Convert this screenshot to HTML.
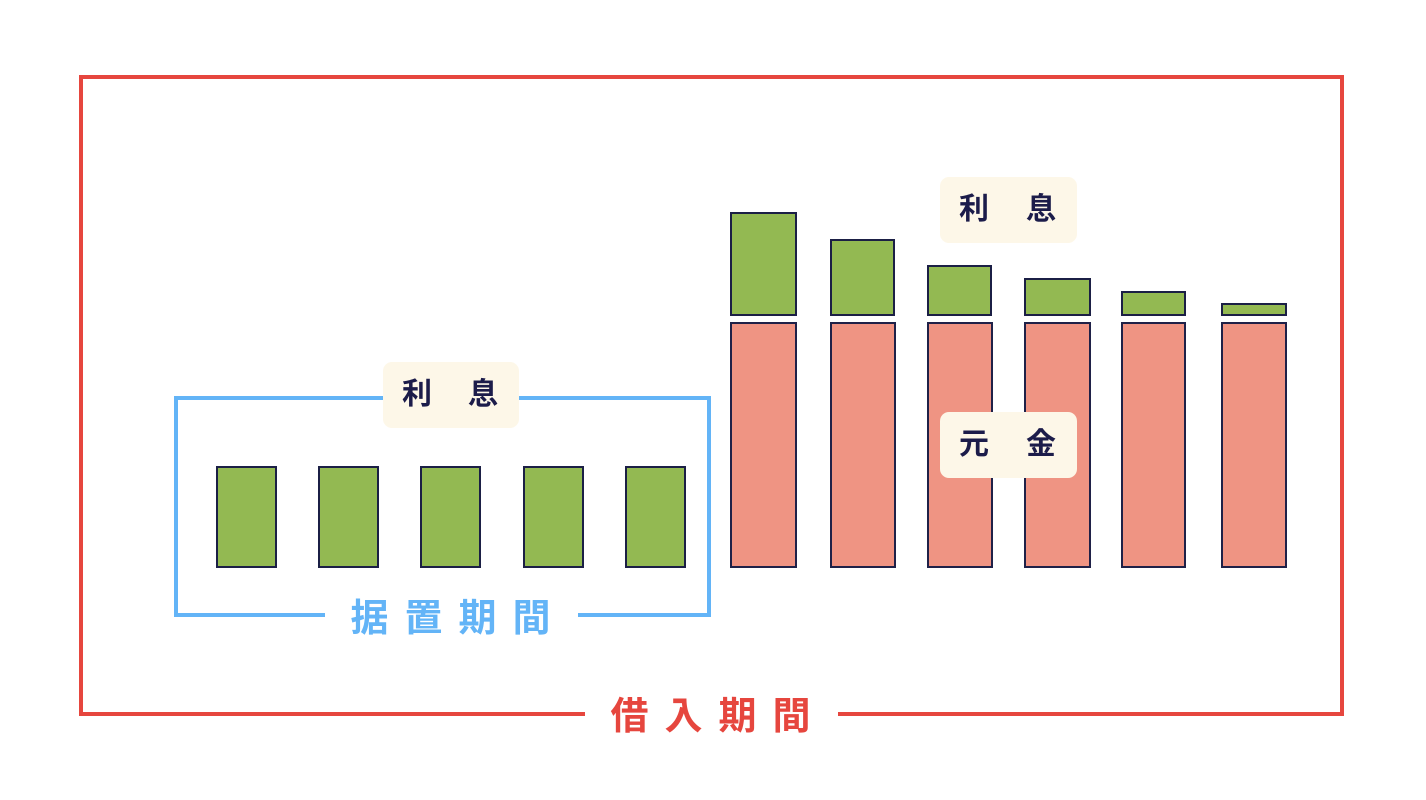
<!DOCTYPE html>
<html><head><meta charset="utf-8"><style>
body{margin:0;width:1426px;height:800px;background:#fff;overflow:hidden;position:relative;font-family:"Liberation Sans","Noto Sans CJK JP",sans-serif}
.a{position:absolute;box-sizing:border-box}
.g{background:#93b952;border:2.5px solid #1b1f45}
.r{background:#ef9483;border:2.5px solid #1f2148}
.lab{background:#fdf7e8;border-radius:9px;color:#1c1c4a;font-weight:bold;font-size:30px;white-space:nowrap}
.lab span{position:absolute;top:13px;line-height:40px}
.t{font-weight:bold;font-size:38px;letter-spacing:16px;background:#fff;text-align:center;line-height:50px;white-space:nowrap}
</style></head><body>
<div class="a" style="left:79px;top:75px;width:1265px;height:641px;border:4px solid #e6463e"></div>
<div class="a t" style="left:585px;top:692px;width:253px;color:#e6463e;padding-left:14px">借入期間</div>
<div class="a" style="left:174px;top:396px;width:537px;height:221px;border:4px solid #63b4f7"></div>
<div class="a t" style="left:325px;top:594px;width:253px;color:#63b4f7;padding-left:14px">据置期間</div>
<div class="a lab" style="left:383px;top:362px;width:136px;height:66px"><span style="left:19px">利</span><span style="left:85px">息</span></div>
<div class="a g" style="left:216px;top:466px;width:61px;height:102px"></div>
<div class="a g" style="left:318px;top:466px;width:61px;height:102px"></div>
<div class="a g" style="left:420px;top:466px;width:61px;height:102px"></div>
<div class="a g" style="left:523px;top:466px;width:61px;height:102px"></div>
<div class="a g" style="left:625px;top:466px;width:61px;height:102px"></div>

<div class="a g" style="left:730px;top:212px;width:67px;height:104px"></div>
<div class="a g" style="left:830px;top:239px;width:65px;height:77px"></div>
<div class="a g" style="left:927px;top:265px;width:65px;height:51px"></div>
<div class="a g" style="left:1024px;top:278px;width:67px;height:38px"></div>
<div class="a g" style="left:1121px;top:291px;width:65px;height:25px"></div>
<div class="a g" style="left:1221px;top:303px;width:66px;height:13px"></div>

<div class="a r" style="left:730px;top:322px;width:67px;height:246px"></div>
<div class="a r" style="left:830px;top:322px;width:66px;height:246px"></div>
<div class="a r" style="left:927px;top:322px;width:66px;height:246px"></div>
<div class="a r" style="left:1024px;top:322px;width:67px;height:246px"></div>
<div class="a r" style="left:1121px;top:322px;width:65px;height:246px"></div>
<div class="a r" style="left:1221px;top:322px;width:66px;height:246px"></div>

<div class="a lab" style="left:940px;top:177px;width:137px;height:66px"><span style="left:19px">利</span><span style="left:86px">息</span></div>
<div class="a lab" style="left:940px;top:412px;width:137px;height:66px"><span style="left:19px">元</span><span style="left:86px">金</span></div>
</body></html>
